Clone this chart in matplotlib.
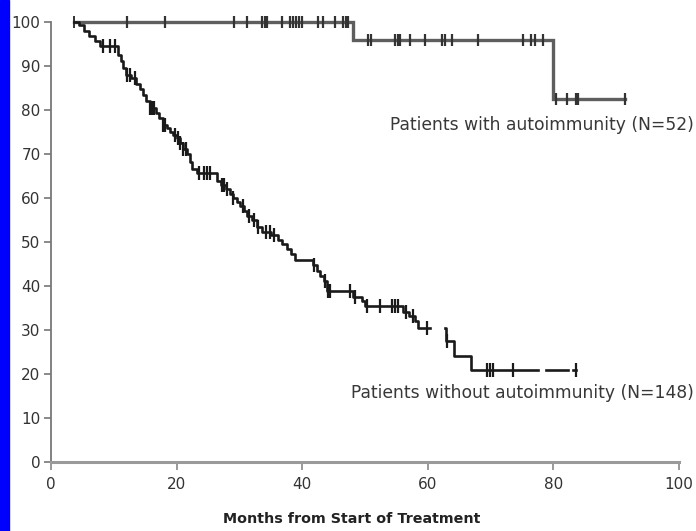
import numpy as np
import matplotlib
matplotlib.use("Agg")
import matplotlib.pyplot as plt
from matplotlib.patches import Rectangle

plt.rcParams['font.family'] = ['DejaVu Sans']

# Kaplan-Meier style curves: event times and survival level after each event
start_time = 3.7

auto_event_times = [48.1, 80.0]
auto_event_levels = [95.8, 82.6]
auto_censor_times = [12.1, 18.2, 29.1, 31.2, 33.6, 34.1, 34.4, 36.8, 38.1, 38.5,
                     39.0, 39.5, 40.0, 42.5, 43.3, 45.2, 46.5, 47.0, 47.3,
                     50.5, 51.0, 54.8, 55.3, 55.6, 57.2, 59.6, 62.2, 62.7, 63.8,
                     68.0, 75.2, 76.5, 77.1, 78.4,
                     80.4, 82.1, 83.6, 83.9, 91.4]
auto_end = 91.4

noauto_event_times = [4.4, 5.2, 6.0, 7.0, 7.8, 10.7, 11.1, 11.5, 11.9, 12.8,
                      13.5, 14.1, 14.7, 15.2, 15.8, 16.7, 17.2, 17.8, 18.4, 19.0,
                      19.5, 20.0, 20.5, 21.0, 21.6, 22.1, 22.5, 23.2, 26.4, 27.0,
                      27.8, 28.5, 29.0, 29.6, 30.1, 30.7, 31.2, 32.0, 32.8, 33.6,
                      35.0, 36.2, 36.8, 37.5, 38.2, 38.8, 41.7, 42.3, 42.9, 43.5,
                      43.9, 48.1, 49.5, 50.0, 56.1, 57.0, 57.9, 58.5, 62.9, 64.1,
                      66.8]
noauto_event_levels = [99.3, 98.0, 96.8, 95.6, 94.5, 92.6, 91.2, 89.6, 88.0, 87.3,
                       86.0, 84.8, 83.5, 82.0, 80.5, 79.3, 78.2, 76.7, 75.9, 75.1,
                       74.3, 73.6, 72.5, 71.2, 69.9, 68.2, 66.5, 65.6, 63.8, 63.0,
                       62.0, 61.0, 60.0, 59.0, 58.1, 57.0, 55.8, 55.0, 53.5, 52.2,
                       51.5, 50.5, 49.5, 48.5, 47.3, 46.0, 44.8, 43.5, 42.3, 41.2,
                       38.8, 37.6, 36.5, 35.4, 34.2, 33.1, 32.0, 30.4, 27.4, 24.2,
                       21.0]
noauto_censor_times = [8.3, 9.4, 10.2, 12.1, 12.6, 13.4, 15.8, 16.1, 16.4, 17.9,
                       18.2, 19.7, 20.2, 20.5, 21.0, 21.5, 23.5, 24.3, 24.8, 25.3,
                       27.2, 27.6, 28.0, 29.0, 30.5, 31.5, 32.3, 33.0, 34.3, 34.9,
                       35.5, 41.8, 43.6, 44.1, 44.4, 47.6, 48.4, 50.3, 52.4, 54.3,
                       54.8, 55.2, 56.6, 57.6, 59.8, 63.0, 69.4, 69.9, 70.4, 73.6,
                       83.6]
# drawn pieces of the curve without autoimmunity (breaks in the line)
noauto_spans = [(3.7, 60.4), (62.7, 77.6), (78.9, 82.3), (83.2, 83.6)]

x_ticks = [0, 20, 40, 60, 80, 100]
y_ticks = list(range(0, 101, 10))


def level_at(t, times, levels):
    lvl = 100.0
    for et, el in zip(times, levels):
        if et <= t:
            lvl = el
    return lvl


def draw_span(ax, a, b, times, levels, **kw):
    inner = [t for t in times if a < t < b]
    xs = [a] + inner + [b]
    ys = [level_at(x, times, levels) for x in xs]
    ax.step(xs, ys, where='post', **kw)


fig = plt.figure(figsize=(6.96, 5.31), dpi=100)
fig.patches.append(Rectangle((0, 0), 9 / 696, 1, transform=fig.transFigure,
                             color='#0000ff', zorder=0))
ax = fig.add_axes([51 / 696, 69 / 531, 628 / 696, 440 / 531])

# with autoimmunity
up_col = '#5e5e5e'
draw_span(ax, start_time, auto_end, auto_event_times, auto_event_levels,
          color=up_col, lw=2.4, solid_joinstyle='miter', clip_on=False)
ax.plot(auto_censor_times,
        [level_at(t, auto_event_times, auto_event_levels) for t in auto_censor_times],
        ls='none', marker='|', ms=8, mew=1.6, color='#333333', clip_on=False)
ax.plot([start_time], [100], ls='none', marker='|', ms=8, mew=1.4,
        color='#333333', clip_on=False)

# without autoimmunity
lo_col = '#1a1a1a'
for a, b in noauto_spans:
    draw_span(ax, a, b, noauto_event_times, noauto_event_levels,
              color=lo_col, lw=1.9, clip_on=False)
ax.plot(noauto_censor_times,
        [level_at(t, noauto_event_times, noauto_event_levels) for t in noauto_censor_times],
        ls='none', marker='|', ms=9.5, mew=1.6, color=lo_col, clip_on=False)

ax.set_xlim(0, 100)
ax.set_ylim(0, 100)
ax.set_xticks(x_ticks)
ax.set_yticks(y_ticks)
for s in ['top', 'right']:
    ax.spines[s].set_visible(False)
ax.spines['left'].set_color('#777777')
ax.spines['left'].set_linewidth(1.3)
ax.spines['bottom'].set_color('#9a9a9a')
ax.spines['bottom'].set_linewidth(2.2)
ax.tick_params(axis='y', direction='out', length=5, width=1.2, color='#777777',
               labelsize=11, labelcolor='#333333', pad=2.5)
ax.tick_params(axis='x', direction='out', length=6, width=1.2, color='#888888',
               labelsize=11, labelcolor='#333333', pad=5)

fig.text(694 / 696, (531 - 125) / 531, 'Patients with autoimmunity (N=52)',
         ha='right', va='center', fontsize=12.3, color='#383838')
fig.text(694 / 696, (531 - 393) / 531, 'Patients without autoimmunity (N=148)',
         ha='right', va='center', fontsize=12.3, color='#383838')
fig.text(352 / 696, (531 - 519) / 531, 'Months from Start of Treatment',
         ha='center', va='center', fontsize=10.3, fontweight='bold', color='#222222')

fig.savefig('out.png', dpi=100)
